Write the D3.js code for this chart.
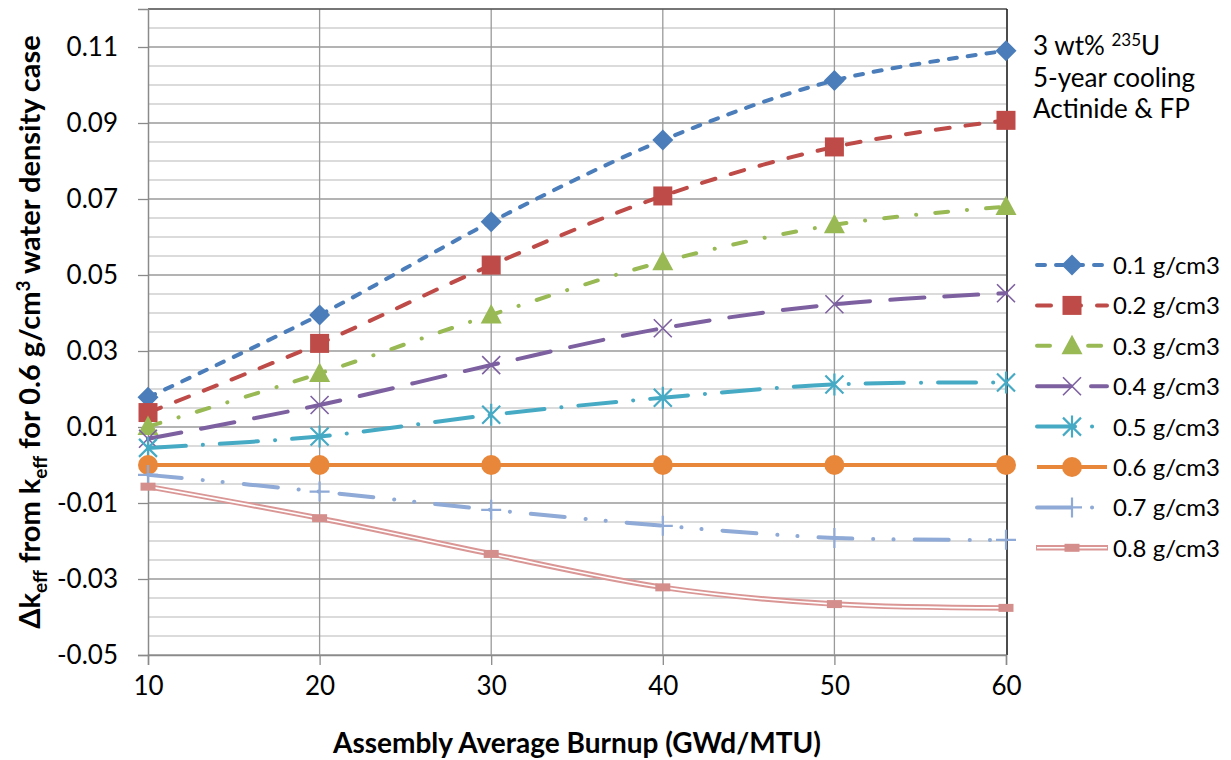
<!DOCTYPE html>
<html><head><meta charset="utf-8">
<script src="https://cdn.jsdelivr.net/npm/d3@7"></script>
<style>body{margin:0;background:#fff}svg{display:block}text{font-family:Lato,"Open Sans",sans-serif;fill:#000}</style>
</head><body><svg id="c" width="1231" height="760"></svg>
<script>
const burnup = [10, 20, 30, 40, 50, 60];
const seriesNames = ["0.1 g/cm3","0.2 g/cm3","0.3 g/cm3","0.4 g/cm3","0.5 g/cm3","0.6 g/cm3","0.7 g/cm3","0.8 g/cm3"];
const d01 = [0.0178, 0.0395, 0.0640, 0.0855, 0.1012, 0.1090];
const d02 = [0.0138, 0.0320, 0.0526, 0.0708, 0.0837, 0.0907];
const d03 = [0.0101, 0.0241, 0.0395, 0.0535, 0.0632, 0.0680];
const d04 = [0.0069, 0.0158, 0.0263, 0.0360, 0.0423, 0.0452];
const d05 = [0.0045, 0.0075, 0.0132, 0.0177, 0.0212, 0.0217];
const d06 = [0, 0, 0, 0, 0, 0];
const d07 = [-0.0026, -0.0070, -0.0118, -0.0160, -0.0192, -0.0197];
const d08 = [-0.0057, -0.0140, -0.0234, -0.0322, -0.0366, -0.0376];
const yTicks = [-0.05, -0.03, -0.01, 0.01, 0.03, 0.05, 0.07, 0.09, 0.11];
const xTicks = [10, 20, 30, 40, 50, 60];

const colors = ["#4A7DBA","#BE4B48","#98B954","#7D60A0","#46AAC5","#E8873A","#8FAAD6","#D99694"];
const markers = ["diamond","square","triangle","x","star","circle","plus","rect"];
const dashes = ["8,11","14,16","13,19,0.1,19","34,20","38,17,0.1,17","none","34,21,0.1,20,0.1,21","none"];
const allData = [d01,d02,d03,d04,d05,d06,d07,d08];

const svg = d3.select("#c");
const L=148,R=1006,T=9,B=655;
const x = d3.scaleLinear().domain([10,60]).range([L,R]);
const y = d3.scaleLinear().domain([-0.05,0.12]).range([B,T]);

// minor gridlines
const minor = d3.range(-0.05, 0.1201, 0.005).map(v=>+v.toFixed(3));
svg.append("g").selectAll("line").data(minor).join("line")
  .attr("x1",L).attr("x2",R).attr("y1",d=>y(d)).attr("y2",d=>y(d))
  .attr("stroke",d=>yTicks.some(t=>Math.abs(t-d)<1e-6)?"#9a9a9a":"#cfcfcf").attr("stroke-width",1.3);
// vertical gridlines
svg.append("g").selectAll("line").data(xTicks.slice(1,-1)).join("line")
  .attr("x1",d=>x(d)).attr("x2",d=>x(d)).attr("y1",T).attr("y2",B)
  .attr("stroke","#9a9a9a").attr("stroke-width",1.3);
// frame
svg.append("line").attr("x1",L).attr("x2",R+1).attr("y1",T).attr("y2",T).attr("stroke","#555").attr("stroke-width",1.5);
svg.append("line").attr("x1",R+1).attr("x2",R+1).attr("y1",T).attr("y2",B).attr("stroke","#111").attr("stroke-width",1.5);

// axes
const fmtY = v => d3.format(".2f")(v).replace("\u2212","-");
const yAxis = d3.axisLeft(y).tickValues(yTicks).tickSize(10).tickPadding(20).tickFormat(fmtY);
const gy = svg.append("g").attr("transform",`translate(${L},0)`).call(yAxis);
gy.select(".domain").attr("stroke","#8a8a8a").attr("stroke-width",1.5);
gy.selectAll(".tick line").attr("stroke","#8a8a8a").attr("stroke-width",1.3);
gy.selectAll(".tick text").style("font-size","26px").attr("font-family","Lato");
const xAxis = d3.axisBottom(x).tickValues(xTicks).tickSize(10).tickPadding(12).tickFormat(d3.format("d"));
const gx = svg.append("g").attr("transform",`translate(0,${B})`).call(xAxis);
gx.select(".domain").attr("stroke","#8a8a8a").attr("stroke-width",1.5);
gx.selectAll(".tick line").attr("stroke","#8a8a8a").attr("stroke-width",1.3);
gx.selectAll(".tick text").style("font-size","26px").attr("font-family","Lato");

function markerPath(t){
  switch(t){
    case "diamond": return "M0,-10.5L10.5,0L0,10.5L-10.5,0Z";
    case "square": return "M-9.5,-9.5H9.5V9.5H-9.5Z";
    case "triangle": return "M0,-11L10.5,8.5H-10.5Z";
    case "x": return "M-9,-9L9,9M-9,9L9,-9";
    case "star": return "M-9,-9L9,9M-9,9L9,-9M0,-11V11";
    case "circle": return "M10,0A10,10 0 1,1 -10,0A10,10 0 1,1 10,0Z";
    case "plus": return "M-10,0H10M0,-10V10";
    case "rect": return "M-7.5,-4H7.5V4H-7.5Z";
  }
}
function styleMarker(sel,i){
  const t=markers[i];
  if(t==="x"||t==="star"||t==="plus"){
    sel.attr("fill","none").attr("stroke",colors[i]).attr("stroke-width",t==="x"?1.6:2.2);
  } else {
    sel.attr("fill",i===7?"#D48E8C":colors[i]).attr("stroke","none");
  }
}

const line = d3.line().x((d,j)=>x(burnup[j])).y(d=>y(d)).curve(d3.curveCatmullRom.alpha(0.5));
const plot = svg.append("g");
allData.forEach((data,i)=>{
  const g = plot.append("g");
  if(i===7){
    g.append("path").attr("d",line(data)).attr("fill","none").attr("stroke",colors[i]).attr("stroke-width",5.5);
    g.append("path").attr("d",line(data)).attr("fill","none").attr("stroke","#fff").attr("stroke-width",1.6);
  } else {
    g.append("path").attr("d",line(data)).attr("fill","none").attr("stroke",colors[i])
      .attr("stroke-width",4).attr("stroke-linecap",i===5?"butt":"round")
      .attr("stroke-dasharray",dashes[i]);
  }
  g.selectAll("path.m").data(data).join("path").attr("class","m")
    .attr("d",markerPath(markers[i]))
    .attr("transform",(d,j)=>`translate(${x(burnup[j])},${y(d)})`)
    .call(styleMarker,i);
});

// legend
const lg = svg.append("g");
seriesNames.forEach((n,i)=>{
  const yy = 265 + i*40.4;
  const g = lg.append("g").attr("transform",`translate(0,${yy})`);
  if(i===7){
    g.append("line").attr("x1",1036).attr("x2",1108).attr("stroke",colors[i]).attr("stroke-width",5.5);
    g.append("line").attr("x1",1037).attr("x2",1107).attr("stroke","#fff").attr("stroke-width",1.6);
  } else {
    g.append("line").attr("x1",1037).attr("x2",1107).attr("stroke",colors[i]).attr("stroke-width",4)
      .attr("stroke-linecap",i===5?"butt":"round").attr("stroke-dasharray",dashes[i]);
  }
  g.append("path").attr("d",markerPath(markers[i])).attr("transform","translate(1072,0)").call(styleMarker,i);
  g.append("text").attr("x",1113).attr("y",9).style("font-size","24px").text(n);
});

// annotation
const ann = svg.append("g").style("font-size","26px");
const t1 = ann.append("text").attr("x",1033).attr("y",55);
t1.append("tspan").text("3 wt% ");
t1.append("tspan").attr("dy",-9).style("font-size","17px").text("235");
t1.append("tspan").attr("dy",9).text("U");
ann.append("text").attr("x",1033).attr("y",87).text("5-year cooling");
ann.append("text").attr("x",1033).attr("y",118).text("Actinide & FP");

// axis titles
svg.append("text").attr("x",(L+R)/2).attr("y",753).attr("text-anchor","middle")
  .style("font-size","28px").style("font-weight","bold").text("Assembly Average Burnup (GWd/MTU)");
const yt = svg.append("text").attr("transform",`translate(40,${(T+B)/2}) rotate(-90)`).attr("text-anchor","middle")
  .style("font-size","29px").style("font-weight","bold");
yt.append("tspan").text("\u0394k");
yt.append("tspan").attr("dy",7).style("font-size","19px").text("eff");
yt.append("tspan").attr("dy",-7).text(" from k");
yt.append("tspan").attr("dy",7).style("font-size","19px").text("eff");
yt.append("tspan").attr("dy",-7).text(" for 0.6 g/cm");
yt.append("tspan").attr("dy",-10).style("font-size","19px").text("3");
yt.append("tspan").attr("dy",10).text(" water density case");
</script></body></html>
